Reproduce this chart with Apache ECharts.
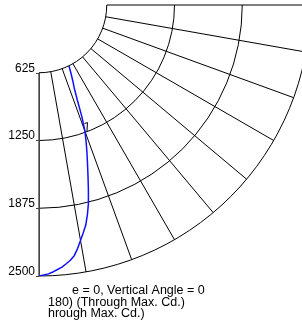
<!DOCTYPE html>
<html>
<head>
<meta charset="utf-8">
<title>Candela plot</title>
<script src="https://cdn.jsdelivr.net/npm/echarts@6/dist/echarts.min.js"></script>
</head>
<body style="margin:0">
<div id="container" style="width:302px;height:329px"></div>
<script>
// vertical angle (deg) and candela
var vertAngles = [0, 1, 2, 3, 4, 5, 6, 7, 8, 9, 10, 11, 12, 13, 14, 15, 16, 17, 18, 19, 20, 21, 22, 23, 24, 25, 26, 26.2];
var candela = [2500, 2492, 2482, 2466, 2446, 2427, 2400, 2372, 2335, 2275, 2205, 2140, 2075, 1985, 1885, 1760, 1640, 1530, 1432, 1335, 1240, 1105, 940, 832, 767, 702, 637, 625];
// small black mark near the 1250 ring
var markAngles = [21.0, 22.4, 20.85];
var markCandela = [1171, 1173, 1244];
var radiusTicks = [625, 1250, 1875, 2500];
var caption = ['e = 0, Vertical Angle = 0', '180) (Through Max. Cd.)', 'hrough Max. Cd.)'];

var chart = echarts.init(document.getElementById('container'));
var font = 'Liberation Sans, Arial, Helvetica, sans-serif';

function pairs(r, a) {
    var out = [];
    for (var i = 0; i < r.length; i++) out.push([r[i], a[i]]);
    return out;
}

var option = {
    animation: false,
    polar: {
        center: [39, 5],
        radius: [67.75, 271]
    },
    angleAxis: {
        type: 'value',
        min: 0,
        max: 90,
        interval: 10,
        startAngle: 270,
        endAngle: 360,
        clockwise: false,
        axisLine: { show: false },
        axisTick: { show: false },
        axisLabel: { show: false },
        splitLine: { show: true, lineStyle: { color: '#000', width: 1 } }
    },
    radiusAxis: {
        type: 'value',
        min: radiusTicks[0],
        max: radiusTicks[radiusTicks.length - 1],
        interval: 625,
        axisLine: { show: true, lineStyle: { color: '#444', width: 1 } },
        axisTick: { show: true, length: -3, lineStyle: { color: '#444' } },
        axisLabel: {
            margin: -4,
            align: 'right',
            verticalAlign: 'bottom',
            lineHeight: 9,
            color: '#000',
            fontSize: 12,
            fontFamily: font,
            formatter: function (v) { return String(v); }
        },
        splitLine: { show: true, lineStyle: { color: '#000', width: 1 } }
    },
    series: [{
        type: 'line',
        coordinateSystem: 'polar',
        data: pairs(candela, vertAngles),
        showSymbol: false,
        lineStyle: { color: '#1010ff', width: 1.5 }
    }, {
        type: 'line',
        coordinateSystem: 'polar',
        data: pairs(markCandela, markAngles),
        showSymbol: false,
        lineStyle: { color: '#000', width: 1 }
    }],
    graphic: [
        { type: 'text', left: 72, top: 284, style: { text: caption[0], font: '12.5px ' + font, fill: '#000' } },
        { type: 'text', left: 48, top: 296, style: { text: caption[1], font: '12.5px ' + font, fill: '#000' } },
        { type: 'text', left: 48, top: 307, style: { text: caption[2], font: '12.5px ' + font, fill: '#000' } }
    ]
};
chart.setOption(option);
</script>
</body>
</html>
